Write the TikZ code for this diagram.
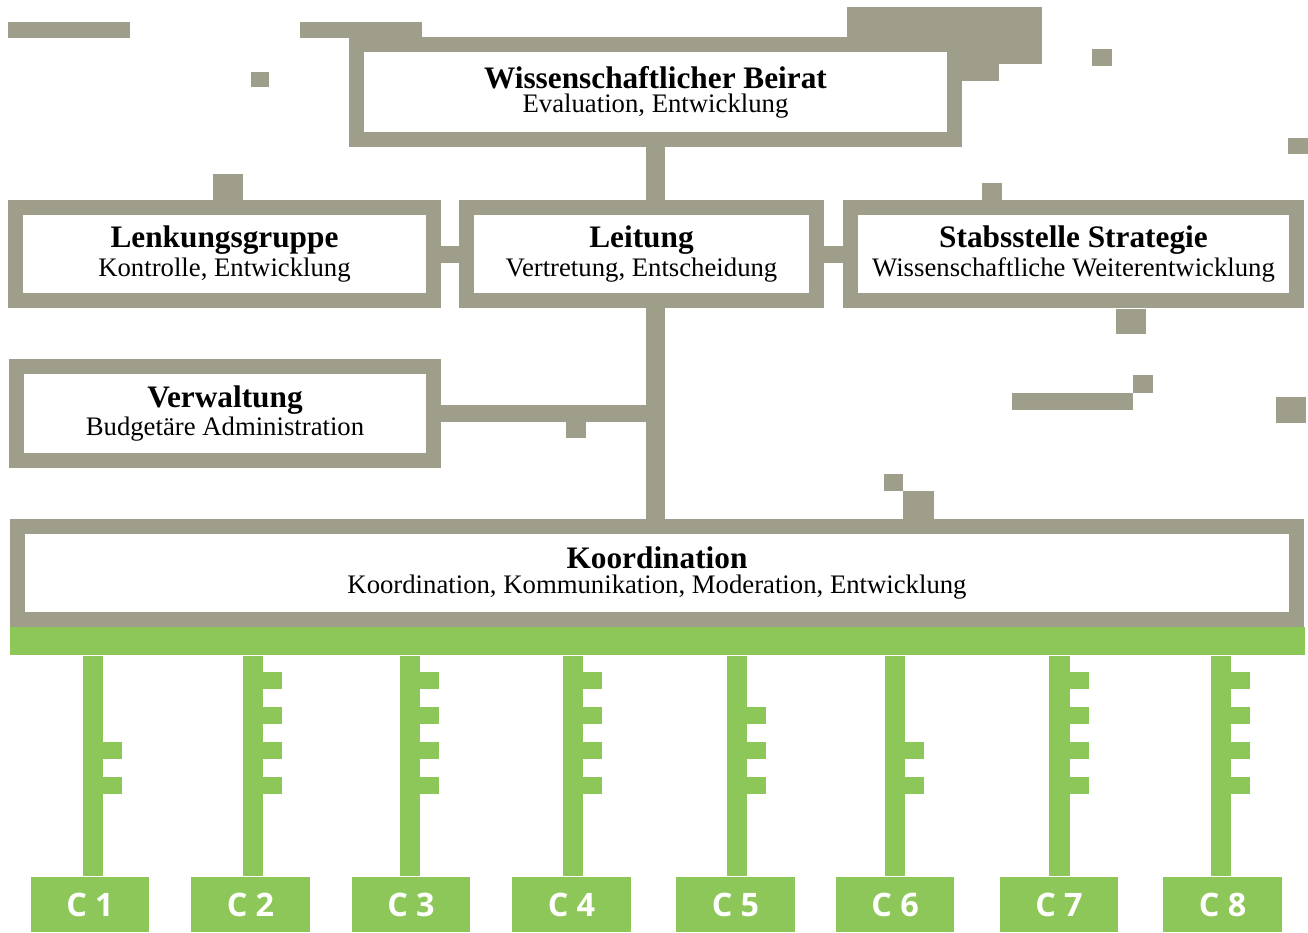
\documentclass[tikz,border=0pt]{standalone}
\usepackage{fontspec}
\setmainfont{Liberation Serif}
\newfontfamily\cfont{Open Sans}

\definecolor{frame}{RGB}{159,158,139}
\definecolor{leaf}{RGB}{142,199,89}

\tikzset{
  unit/.style={draw=frame, line width=0.15cm, fill=white, align=center,
    inner sep=0pt, minimum height=0.93cm, font=\fontsize{7.6}{6.9}\selectfont},
  link/.style={draw=frame, line width=0.18cm},
  hlink/.style={draw=frame, line width=0.17cm},
  cbox/.style={fill=leaf, text=white, inner sep=0pt, minimum width=1.18cm,
    minimum height=0.55cm, font=\cfont\bfseries\fontsize{9.2}{10}\selectfont},
  stem/.style={draw=leaf, line width=0.2cm},
}
\newcommand{\unittext}[2]{{\fontsize{8.9}{6.9}\selectfont\bfseries #1}\\#2}

\begin{document}
\begin{tikzpicture}[x=0.01cm, y=-0.01cm]
  \useasboundingbox (0,0) rectangle (1308,932);

  % scattered blocks
  \foreach \a/\b/\c/\d in {8/22/130/38, 251/72/269/87, 300/22/422/38,
      847/7/1042/64, 962/64/999/81, 1092/49/1112/66, 1288/138/1308/154,
      213/174/243/200, 982/183/1002/200, 1116/309/1146/334, 566/422/586/438,
      1012/393/1133/410, 1133/375/1153/393, 1276/397/1306/423,
      884/474/903/491, 903/491/934/519}
    \fill[frame] (\a,\b) rectangle (\c,\d);

  % units
  \node[unit, minimum width=5.98cm, minimum height=0.95cm] (beirat) at (655.5,92)
    {\unittext{Wissenschaftlicher Beirat}{Evaluation, Entwicklung}};
  \node[unit, minimum width=4.18cm] (lenkung) at (224.5,254)
    {\unittext{Lenkungsgruppe}{Kontrolle, Entwicklung}};
  \node[unit, minimum width=3.50cm] (leitung) at (641.5,254)
    {\unittext{Leitung}{Vertretung, Entscheidung}};
  \node[unit, minimum width=4.46cm] (stab) at (1073.5,254)
    {\unittext{Stabsstelle Strategie}{Wissenschaftliche Weiterentwicklung}};
  \node[unit, minimum width=4.17cm, minimum height=0.94cm] (verwaltung) at (225,413.5)
    {\unittext{Verwaltung}{Budgetäre Administration}};
  \node[unit, minimum width=12.79cm] (koord) at (657,573)
    {\unittext{Koordination}{Koordination, Kommunikation, Moderation, Entwicklung}};

  % links
  \draw[link] (beirat.south) -- (beirat.south |- leitung.north);
  \draw[link] (beirat.south |- leitung.south) -- (beirat.south |- koord.north);
  \draw[hlink] (lenkung.east) -- (leitung.west);
  \draw[hlink] (leitung.east) -- (stab.west);
  \draw[hlink] (verwaltung.east) -- (verwaltung.east -| beirat.south);

  % centres
  \node[fill=leaf, inner sep=0pt, minimum width=12.95cm, minimum height=0.28cm]
    (bus) at (657.5,641) {};
  \foreach \i/\x/\d/\n in {1/90/3/2, 2/250.5/2.5/4, 3/411/-1/4, 4/571.5/1.5/4,
      5/735.5/1.5/3, 6/895/0/2, 7/1059/0.5/4, 8/1222.5/-1.5/4} {
    \node[cbox] (c\i) at (\x,904.5) {C \i};
    \coordinate (top\i) at ([xshift=\d*0.01cm]c\i.north);
    \draw[stem] (bus.south -| top\i) -- (top\i);
    \foreach \k in {1,...,\n}
      \fill[leaf] ({\x+\d+10},{777-35*(\k-1)}) rectangle ({\x+\d+29},{794-35*(\k-1)});
  }
\end{tikzpicture}
\end{document}
